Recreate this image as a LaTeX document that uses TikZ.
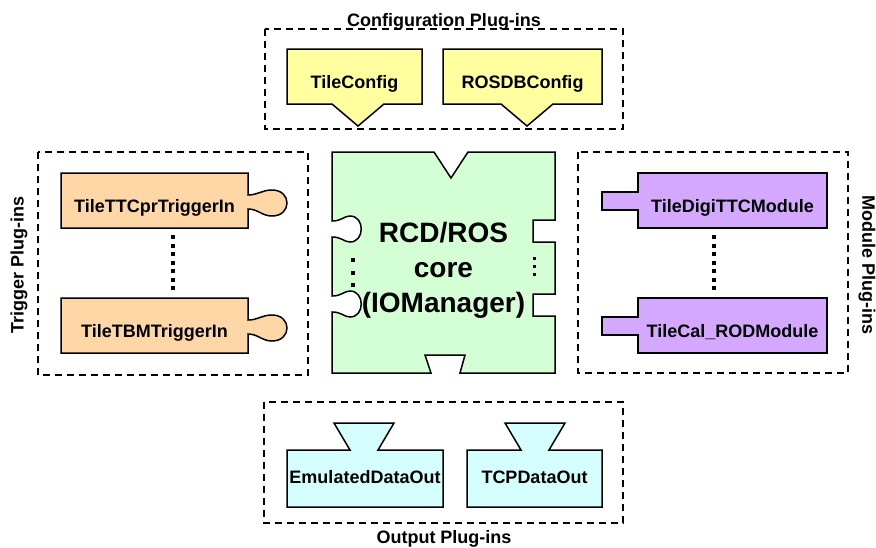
\documentclass[tikz,border=0pt]{standalone}
\usepackage{fontspec}
\setmainfont{Liberation Sans}
\usetikzlibrary{calc}

\definecolor{cfgYellow}{RGB}{255,255,160}
\definecolor{trigOrange}{RGB}{255,214,166}
\definecolor{coreGreen}{RGB}{212,255,212}
\definecolor{modPurple}{RGB}{213,168,255}
\definecolor{outCyan}{RGB}{213,255,255}

\tikzset{
    piece/.style={draw=black, line width=1.5pt, line join=miter},
    cfgpiece/.style={piece, fill=cfgYellow},
    trigpiece/.style={piece, fill=trigOrange},
    corepiece/.style={piece, fill=coreGreen},
    modpiece/.style={piece, fill=modPurple},
    outpiece/.style={piece, fill=outCyan},
    plugtext/.style={font=\bfseries\fontsize{18}{21}\selectfont, inner sep=0pt, text height=24pt, text depth=0pt},
    group/.style={draw, dash pattern=on 7pt off 5pt, line width=1.6pt},
    grouptitle/.style={font=\bfseries\fontsize{18}{21}\selectfont, inner sep=0pt},
    bigdots/.style={line width=4pt, dash pattern=on 4pt off 4.5pt}
}

% left, right, tab centre, name, text
\newcommand{\configPiece}[5]{
    \draw[cfgpiece] (#1,49) -- (#2,49) -- (#2,104) -- ({#3+26},104) -- (#3,126)
        -- ({#3-26},104) -- (#1,104) -- cycle;
    \node[plugtext, minimum width={#2-#1}, minimum height=55] (#4) at ({(#1+#2)/2},76.5) {#5};
}

% top, name, text
\newcommand{\triggerPiece}[3]{
    \draw[trigpiece] (61,#1) -- (248,#1) -- (248,{#1+22})
        .. controls (258,{#1+22}) and (262,{#1+17}) .. (272,{#1+17})
        .. controls (292,{#1+17}) and (292,{#1+43}) .. (272,{#1+43})
        .. controls (262,{#1+43}) and (258,{#1+36}) .. (248,{#1+36})
        -- (248,{#1+55}) -- (61,{#1+55}) -- cycle;
    \node[plugtext, minimum width=187, minimum height=55] (#2) at (154.5,{#1+27.5}) {#3};
}

% top, name, text
\newcommand{\modulePiece}[3]{
    \draw[modpiece] (638,#1) -- (827,#1) -- (827,{#1+55}) -- (638,{#1+55})
        -- (638,{#1+37}) -- (602,{#1+37}) -- (602,{#1+19}) -- (638,{#1+19}) -- cycle;
    \node[plugtext, minimum width=189, minimum height=55] (#2) at (732.5,{#1+27.5}) {#3};
}

% left, right, tab centre, name, text
\newcommand{\outputPiece}[5]{
    \draw[outpiece] (#1,450) -- ({#3-14},450) -- ({#3-30},423) -- ({#3+30},423)
        -- ({#3+14},450) -- (#2,450) -- (#2,507) -- (#1,507) -- cycle;
    \node[plugtext, text height=13pt, text depth=4pt, minimum width={#2-#1}, minimum height=57] (#4) at ({(#1+#2)/2},478.5) {#5};
}

\begin{document}
\begin{tikzpicture}[x=1pt, y=-1pt]
    \useasboundingbox (0,0) rectangle (876,547);

    % groups
    \draw[group] (265,29) rectangle (623,129);
    \draw[group] (38,152) rectangle (308,375);
    \draw[group] (578,152) rectangle (848,373);
    \draw[group] (264,402) rectangle (623,523);

    \node[grouptitle, anchor=base] (cfgtitle) at (444,26) {Configuration Plug-ins};
    \node[grouptitle, rotate=90] (trigtitle) at (19,265) {Trigger Plug-ins};
    \node[grouptitle, rotate=-90] (modtitle) at (867,265) {Module Plug-ins};
    \node[grouptitle, anchor=base] (outtitle) at (444,543) {Output Plug-ins};

    % configuration
    \configPiece{287}{422}{358}{tileconfig}{TileConfig}
    \configPiece{443}{602}{527}{rosdbconfig}{ROSDBConfig}

    % trigger
    \triggerPiece{173}{ttcpr}{TileTTCprTriggerIn}
    \triggerPiece{298}{tbm}{TileTBMTriggerIn}
    \draw[bigdots, shorten <=7pt, shorten >=6pt] ([xshift=18.5pt]ttcpr.south) -- ([xshift=18.5pt]tbm.north);

    % module
    \modulePiece{173}{digittc}{TileDigiTTCModule}
    \modulePiece{298}{calrod}{TileCal\_RODModule}
    \draw[bigdots, shorten <=7pt, shorten >=6pt] ([xshift=-18.5pt]digittc.south) -- ([xshift=-18.5pt]calrod.north);

    % output
    \outputPiece{287}{443}{364}{emuout}{EmulatedDataOut}
    \outputPiece{467}{602}{535}{tcpout}{TCPDataOut}

    % core
    \draw[corepiece] (332,152) -- (434,152) -- (451,178) -- (468,152) -- (555,152)
        -- (555,220) -- (533,220) -- (533,242) -- (555,242)
        -- (555,294) -- (533,294) -- (533,316) -- (555,316)
        -- (555,373) -- (460,373) -- (465,355) -- (425,355) -- (431,373) -- (332,373)
        -- (332,312) .. controls (342,312) and (344,317) .. (350,317)
        .. controls (365,317) and (365,291) .. (350,291)
        .. controls (344,291) and (342,296) .. (332,296)
        -- (332,237) .. controls (342,237) and (344,242) .. (350,242)
        .. controls (365,242) and (365,216) .. (350,216)
        .. controls (344,216) and (342,221) .. (332,221)
        -- cycle;
    \draw[bigdots, dash pattern=on 4pt off 8.5pt] (353,258) -- (353,288);
    \draw[bigdots, line width=3pt, dash pattern=on 3pt off 5pt] (534,257) -- (534,276);
    \node[font=\bfseries\fontsize{28}{35}\selectfont, align=center, inner sep=0pt] (core) at (443.5,270.5) {RCD/ROS\\core\\(IOManager)};
\end{tikzpicture}
\end{document}
